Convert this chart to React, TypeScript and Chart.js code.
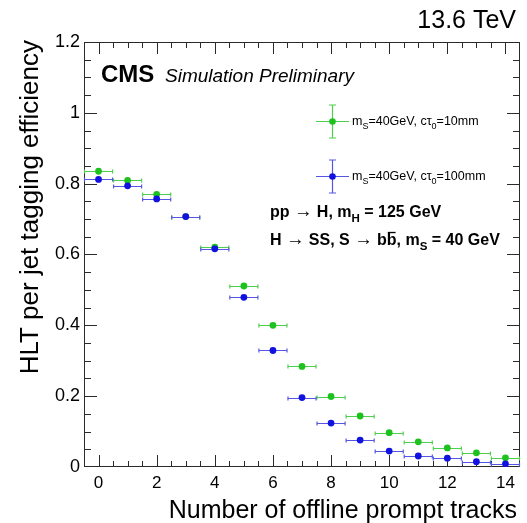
import React, { useEffect, useRef } from "react";
import { Chart, registerables } from "chart.js";

Chart.register(...registerables);

// Number of offline prompt tracks (bin centres, bins are 1 track wide)
const nTracks = [0, 1, 2, 3, 4, 5, 6, 7, 8, 9, 10, 11, 12, 13, 14];
// HLT per-jet tagging efficiency, mS = 40 GeV, c*tau0 = 10 mm
const effCtau10 = [0.835, 0.809, 0.77, 0.707, 0.621, 0.511, 0.4, 0.284, 0.199, 0.144, 0.097, 0.071, 0.054, 0.04, 0.026];
// HLT per-jet tagging efficiency, mS = 40 GeV, c*tau0 = 100 mm
const effCtau100 = [0.812, 0.794, 0.757, 0.707, 0.616, 0.479, 0.329, 0.196, 0.124, 0.076, 0.045, 0.031, 0.025, 0.015, 0.009];

const xTickValues = [0, 2, 4, 6, 8, 10, 12, 14];
const yTickValues = [0, 0.2, 0.4, 0.6, 0.8, 1, 1.2];
const xRange = [-0.5, 14.5];
const yRange = [0, 1.2];
const binHalfWidth = 0.5;

const FONT = "'Liberation Sans', Arial, Helvetica, sans-serif";
const GREEN = "#1ec21e";
const GREEN_LINE = "#4fcf4f";
const BLUE = "#1212e0";
const BLUE_LINE = "#5656e4";
const AXIS = "#2a2a2a";

type Seg = { t: string; sub?: boolean; over?: boolean; arrow?: boolean };

// Draws a run of text pieces with ROOT-like subscripts, overlines and arrows.
function drawRich(ctx: CanvasRenderingContext2D, x: number, y: number, segs: Seg[], size: number, weight: string) {
  let cx = x;
  for (const s of segs) {
    const sz = s.sub ? size * 0.72 : size;
    ctx.font = s.arrow ? `normal ${sz * 1.15}px ${FONT}` : `${weight} ${sz}px ${FONT}`;
    const dy = s.sub ? size * 0.3 : 0;
    ctx.fillText(s.t, cx, y + dy);
    const w = ctx.measureText(s.t).width;
    if (s.over) {
      ctx.save();
      ctx.lineWidth = Math.max(1, size / 12);
      ctx.beginPath();
      const oy = y - size * 0.78;
      ctx.moveTo(cx + 1, oy);
      ctx.lineTo(cx + w - 1, oy);
      ctx.stroke();
      ctx.restore();
    }
    cx += w;
  }
}

function drawErrorBars(chart: any, values: number[], color: string) {
  const { ctx, scales } = chart;
  const xs = scales.x;
  const ys = scales.y;
  ctx.save();
  ctx.strokeStyle = color;
  ctx.lineWidth = 1.2;
  values.forEach((v, i) => {
    const x0 = xs.getPixelForValue(nTracks[i] - binHalfWidth);
    const x1 = xs.getPixelForValue(nTracks[i] + binHalfWidth);
    const py = Math.round(ys.getPixelForValue(v)) + 0.5;
    ctx.beginPath();
    ctx.moveTo(x0, py);
    ctx.lineTo(x1, py);
    ctx.moveTo(x0 + 0.5, py - 2);
    ctx.lineTo(x0 + 0.5, py + 2);
    ctx.moveTo(x1 - 0.5, py - 2);
    ctx.lineTo(x1 - 0.5, py + 2);
    ctx.stroke();
  });
  ctx.restore();
}

function drawLegendMarker(ctx: CanvasRenderingContext2D, cx: number, cy: number, line: string, fill: string) {
  ctx.save();
  ctx.strokeStyle = line;
  ctx.lineWidth = 1.2;
  ctx.beginPath();
  ctx.moveTo(cx - 16.5, cy);
  ctx.lineTo(cx + 16.5, cy);
  ctx.moveTo(cx, cy - 16.5);
  ctx.lineTo(cx, cy + 16.5);
  ctx.moveTo(cx - 3.5, cy - 16.5);
  ctx.lineTo(cx + 3.5, cy - 16.5);
  ctx.moveTo(cx - 3.5, cy + 16.5);
  ctx.lineTo(cx + 3.5, cy + 16.5);
  ctx.stroke();
  ctx.fillStyle = fill;
  ctx.beginPath();
  ctx.arc(cx, cy, 3.3, 0, Math.PI * 2);
  ctx.fill();
  ctx.restore();
}

const decorPlugin = {
  id: "cmsDecor",
  beforeDatasetsDraw(chart: any) {
    const { ctx, chartArea: a, scales } = chart;
    const xs = scales.x;
    const ys = scales.y;
    ctx.save();
    ctx.strokeStyle = AXIS;
    ctx.lineWidth = 1;
    ctx.strokeRect(Math.round(a.left) + 0.5, Math.round(a.top) + 0.5, Math.round(a.right - a.left) - 1, Math.round(a.bottom - a.top) - 1);

    const seg = (x1: number, y1: number, x2: number, y2: number) => {
      ctx.beginPath();
      ctx.moveTo(x1, y1);
      ctx.lineTo(x2, y2);
      ctx.stroke();
    };

    // x-axis ticks, drawn inward on bottom and top edges
    for (let k = 1; k < 30; k++) {
      const v = xRange[0] + k * 0.5;
      const px = Math.round(xs.getPixelForValue(v)) + 0.5;
      const major = Math.abs(v / 2 - Math.round(v / 2)) < 1e-6;
      const len = major ? 12 : 6;
      seg(px, a.bottom, px, a.bottom - len);
      seg(px, a.top, px, a.top + len);
    }
    // y-axis ticks, drawn inward on left and right edges
    for (let k = 1; k < 24; k++) {
      const v = k * 0.05;
      const py = Math.round(ys.getPixelForValue(v)) + 0.5;
      const major = k % 4 === 0;
      const len = major ? 13 : 7;
      seg(a.left, py, a.left + len, py);
      seg(a.right, py, a.right - len, py);
    }
    ctx.restore();

    drawErrorBars(chart, effCtau10, GREEN_LINE);
    drawErrorBars(chart, effCtau100, BLUE_LINE);
  },
  afterDraw(chart: any) {
    const { ctx } = chart;
    ctx.save();
    ctx.fillStyle = "#000";
    ctx.strokeStyle = "#000";
    ctx.textBaseline = "alphabetic";

    // energy label
    ctx.textAlign = "right";
    ctx.font = `25px ${FONT}`;
    ctx.fillText("13.6 TeV", 516, 28);

    // experiment label
    ctx.textAlign = "left";
    ctx.font = `bold 24px ${FONT}`;
    ctx.fillText("CMS", 101, 82);
    ctx.font = `italic 19px ${FONT}`;
    ctx.fillText("Simulation Preliminary", 165, 82);

    // axis titles
    ctx.textAlign = "right";
    ctx.font = `25px ${FONT}`;
    ctx.fillText("Number of offline prompt tracks", 517, 518);
    ctx.save();
    ctx.translate(37.5, 40);
    ctx.rotate(-Math.PI / 2);
    ctx.font = `26px ${FONT}`;
    ctx.fillText("HLT per jet tagging efficiency", 0, 0);
    ctx.restore();

    // legend
    ctx.textAlign = "left";
    drawLegendMarker(ctx, 332.5, 121.5, GREEN_LINE, GREEN);
    drawLegendMarker(ctx, 332.5, 176.5, BLUE_LINE, BLUE);
    ctx.fillStyle = "#000";
    drawRich(ctx, 352, 125, [{ t: "m" }, { t: "S", sub: true }, { t: "=40GeV, c\u03c4" }, { t: "0", sub: true }, { t: "=10mm" }], 12.5, "normal");
    drawRich(ctx, 352, 180, [{ t: "m" }, { t: "S", sub: true }, { t: "=40GeV, c\u03c4" }, { t: "0", sub: true }, { t: "=100mm" }], 12.5, "normal");

    // process description
    drawRich(ctx, 270, 217, [{ t: "pp " }, { t: "\u2192", arrow: true }, { t: " H, m" }, { t: "H", sub: true }, { t: " = 125 GeV" }], 16, "bold");
    drawRich(
      ctx,
      270,
      245,
      [{ t: "H " }, { t: "\u2192", arrow: true }, { t: " SS, S " }, { t: "\u2192", arrow: true }, { t: " b" }, { t: "b", over: true }, { t: ", m" }, { t: "S", sub: true }, { t: " = 40 GeV" }],
      16,
      "bold"
    );
    ctx.restore();
  },
};

export default function App() {
  const canvasRef = useRef<HTMLCanvasElement | null>(null);

  useEffect(() => {
    const canvas = canvasRef.current;
    if (!canvas) return;
    const chart = new Chart(canvas, {
      type: "scatter",
      data: {
        datasets: [
          {
            label: "mS=40GeV, ctau0=10mm",
            data: nTracks.map((n, i) => ({ x: n, y: effCtau10[i] })),
            backgroundColor: GREEN,
            borderColor: GREEN,
            pointRadius: 3.4,
            borderWidth: 0,
            order: 1,
          },
          {
            label: "mS=40GeV, ctau0=100mm",
            data: nTracks.map((n, i) => ({ x: n, y: effCtau100[i] })),
            backgroundColor: BLUE,
            borderColor: BLUE,
            pointRadius: 3.4,
            borderWidth: 0,
            order: 0,
          },
        ],
      },
      options: {
        responsive: false,
        animation: false,
        devicePixelRatio: 1,
        layout: { padding: { left: 0, right: 7, top: 42, bottom: 0 } },
        plugins: { legend: { display: false }, tooltip: { enabled: false } },
        scales: {
          x: {
            type: "linear",
            min: xRange[0],
            max: xRange[1],
            grid: { display: false, drawTicks: false },
            border: { display: false },
            afterBuildTicks: (s: any) => {
              s.ticks = xTickValues.map((v) => ({ value: v }));
            },
            afterFit: (s: any) => {
              s.height = 56;
            },
            ticks: {
              padding: 6,
              color: "#000",
              font: { family: FONT, size: 17 },
              maxRotation: 0,
              callback: (v: any) => String(v),
            },
          },
          y: {
            type: "linear",
            min: yRange[0],
            max: yRange[1],
            grid: { display: false, drawTicks: false },
            border: { display: false },
            afterBuildTicks: (s: any) => {
              s.ticks = yTickValues.map((v) => ({ value: v }));
            },
            afterFit: (s: any) => {
              s.width = 84;
            },
            ticks: {
              padding: 4,
              color: "#000",
              font: { family: FONT, size: 18 },
              callback: (v: any) => String(Math.round(Number(v) * 10) / 10),
            },
          },
        },
      },
      plugins: [decorPlugin],
    });
    return () => chart.destroy();
  }, []);

  return (
    <div style={{ position: "fixed", left: 0, top: 0, width: 527, height: 523, background: "#fff" }}>
      <canvas ref={canvasRef} width={527} height={523} style={{ display: "block" }} />
    </div>
  );
}
